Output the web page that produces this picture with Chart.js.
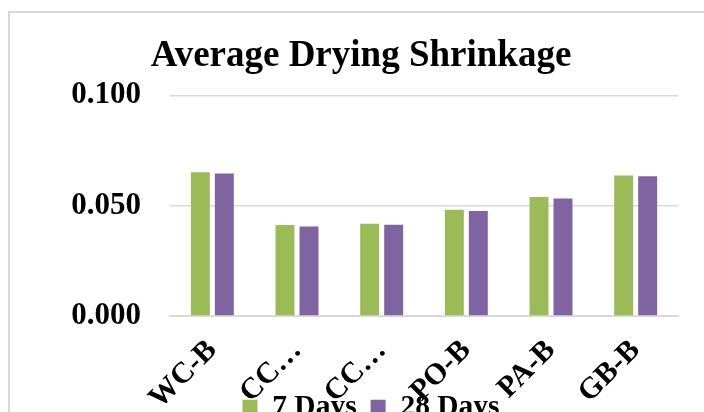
<!DOCTYPE html>
<html>
<head>
<meta charset="utf-8">
<script src="https://cdn.jsdelivr.net/npm/chart.js@4"></script>
<style>
    html, body { margin: 0; padding: 0; background: #fff; overflow: hidden; width: 704px; height: 412px; }
    #frame { position: absolute; left: 8px; top: 11px; width: 800px; height: 500px; border: 2px solid #D9D9D9; box-sizing: border-box; }
    #wrap { position: absolute; left: 0; top: 0; width: 704px; height: 434px; }
</style>
</head>
<body>
<div id="frame"></div>
<div id="wrap"><canvas id="bar-chart" width="704" height="434"></canvas></div>
<script>
// Data
const categories = ['WC-B', 'CC\u2026', 'CC\u2026', 'PO-B', 'PA-B', 'GB-B'];
const days7 = [0.0652, 0.0412, 0.0418, 0.0482, 0.0539, 0.0637];
const days28 = [0.0646, 0.0406, 0.0414, 0.0476, 0.0533, 0.0633];
const seriesNames = ['7 Days', '28 Days'];
const yTicks = [0, 0.05, 0.1];

const serif = 'Liberation Serif, Times New Roman, serif';

// the x labels run down into the legend, like in the original, so don't clip them to the axis box;
// also nudge the legend a bit to the right
const tweakLayout = {
    id: 'tweakLayout',
    afterLayout(chart) {
        const x = chart.scales.x;
        x._computeLabelArea = () => ({ top: x.top, left: 0, bottom: chart.height, right: chart.width });
        chart.legend.left += 10;
        chart.legend.right += 10;
    }
};

const ctx = document.getElementById('bar-chart').getContext('2d');
const barChart = new Chart(ctx, {
    type: 'bar',
    data: {
        labels: categories,
        datasets: [{
            label: seriesNames[0],
            data: days7,
            backgroundColor: '#9BBB59',
            categoryPercentage: 0.567,
            barPercentage: 0.79
        }, {
            label: seriesNames[1],
            data: days28,
            backgroundColor: '#8064A2',
            categoryPercentage: 0.567,
            barPercentage: 0.79
        }]
    },
    plugins: [tweakLayout],
    options: {
        responsive: false,
        animation: false,
        layout: { padding: { top: 0, left: 44, right: 26, bottom: 2 } },
        plugins: {
            title: {
                display: true,
                text: 'Average Drying Shrinkage',
                color: '#000',
                font: { family: serif, size: 37, weight: 'bold' },
                padding: { top: 34, bottom: 17 }
            },
            legend: {
                position: 'bottom',
                labels: {
                    color: '#000',
                    font: { family: serif, size: 29.5, weight: 'bold' },
                    boxWidth: 15,
                    boxHeight: 15,
                    padding: 14
                }
            },
            tooltip: { enabled: false }
        },
        scales: {
            x: {
                grid: { display: false },
                border: { color: '#D9D9D9', width: 2 },
                ticks: {
                    color: '#000',
                    font: { family: serif, size: 30, weight: 'bold' },
                    maxRotation: 45,
                    minRotation: 45,
                    autoSkip: false,
                    padding: 9
                },
                afterFit: (scale) => { scale.height = 62.5; }
            },
            y: {
                min: 0,
                max: 0.1,
                afterBuildTicks: (scale) => { scale.ticks = yTicks.map(v => ({ value: v })); },
                grid: { color: '#D9D9D9', lineWidth: 1.5, drawTicks: false },
                border: { display: false },
                ticks: {
                    color: '#000',
                    font: { family: serif, size: 31, weight: 'bold' },
                    padding: 29,
                    callback: (v) => v.toFixed(3)
                },
                afterFit: (scale) => { scale.width = 126; }
            }
        }
    }
});
</script>
</body>
</html>
